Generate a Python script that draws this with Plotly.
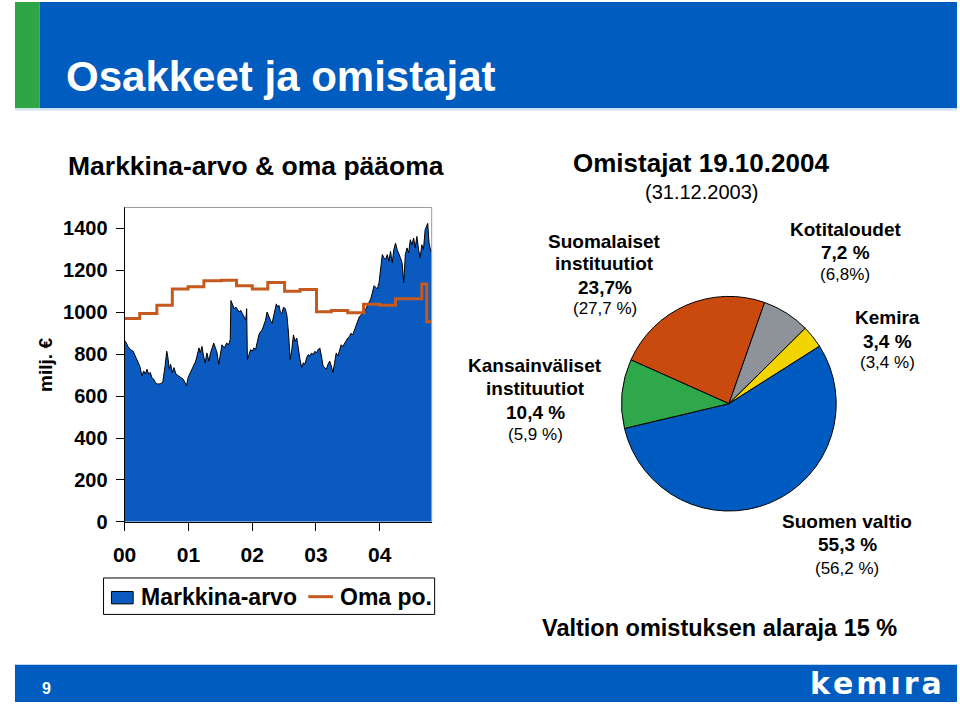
import plotly.graph_objects as go

# ---------------- DATA ----------------
# Market value (milj. €); x in decimal years
mv_years = [2000.000, 2000.015, 2000.052, 2000.093, 2000.134, 2000.170, 2000.206, 2000.237, 2000.273, 2000.299,
            2000.325, 2000.351, 2000.377, 2000.402, 2000.428, 2000.454, 2000.480, 2000.506, 2000.557, 2000.599,
            2000.635, 2000.661, 2000.676, 2000.702, 2000.722, 2000.748, 2000.774, 2000.805, 2000.841, 2000.877,
            2000.918, 2000.944, 2000.970, 2000.996, 2001.022, 2001.048, 2001.084, 2001.115, 2001.135, 2001.166,
            2001.187, 2001.213, 2001.238, 2001.264, 2001.290, 2001.321, 2001.347, 2001.373, 2001.398, 2001.424,
            2001.450, 2001.476, 2001.502, 2001.527, 2001.563, 2001.600, 2001.631, 2001.641, 2001.656, 2001.667,
            2001.692, 2001.718, 2001.744, 2001.770, 2001.796, 2001.821, 2001.847, 2001.873, 2001.899, 2001.914,
            2001.925, 2001.950, 2001.976, 2002.002, 2002.028, 2002.054, 2002.079, 2002.105, 2002.131, 2002.157,
            2002.183, 2002.209, 2002.234, 2002.260, 2002.286, 2002.312, 2002.337, 2002.363, 2002.379, 2002.399,
            2002.420, 2002.441, 2002.466, 2002.492, 2002.518, 2002.544, 2002.570, 2002.595, 2002.621, 2002.647,
            2002.673, 2002.699, 2002.724, 2002.750, 2002.776, 2002.802, 2002.828, 2002.853, 2002.879, 2002.905,
            2002.931, 2002.957, 2002.983, 2003.008, 2003.034, 2003.060, 2003.086, 2003.111, 2003.137, 2003.163,
            2003.189, 2003.215, 2003.240, 2003.266, 2003.292, 2003.318, 2003.344, 2003.369, 2003.395, 2003.421,
            2003.447, 2003.473, 2003.498, 2003.524, 2003.550, 2003.576, 2003.602, 2003.627, 2003.653, 2003.679,
            2003.705, 2003.731, 2003.756, 2003.782, 2003.808, 2003.834, 2003.860, 2003.885, 2003.911, 2003.937,
            2003.963, 2003.989, 2004.014, 2004.040, 2004.066, 2004.092, 2004.118, 2004.143, 2004.169, 2004.195,
            2004.221, 2004.247, 2004.272, 2004.298, 2004.324, 2004.350, 2004.376, 2004.401, 2004.427, 2004.453,
            2004.479, 2004.505, 2004.531, 2004.556, 2004.582, 2004.608, 2004.634, 2004.659, 2004.685, 2004.711,
            2004.737, 2004.752, 2004.773, 2004.799, 2004.814]
mv_values = [861, 861, 837, 822, 814, 791, 767, 744, 697, 720,
             705, 728, 705, 713, 689, 681, 666, 658, 658, 666,
             744, 814, 791, 728, 752, 713, 736, 705, 697, 689,
             681, 666, 650, 689, 705, 728, 744, 767, 791, 830,
             806, 837, 791, 759, 806, 767, 806, 837, 853, 830,
             806, 752, 791, 845, 830, 853, 845, 861, 870, 1056,
             1040, 1017, 1025, 1009, 1001, 1009, 994, 978, 962, 1017,
             775, 798, 822, 814, 830, 822, 861, 892, 908, 916,
             939, 962, 1001, 978, 962, 947, 978, 1025, 1040, 1025,
             1033, 1001, 994, 1025, 1017, 986, 900, 775, 822, 892,
             861, 877, 822, 775, 736, 759, 752, 783, 798, 791,
             806, 798, 814, 806, 822, 830, 791, 744, 736, 728,
             752, 767, 744, 713, 759, 806, 791, 822, 845, 837,
             853, 861, 877, 884, 900, 892, 916, 939, 955, 978,
             986, 1001, 1009, 1017, 1033, 1048, 1064, 1095, 1127, 1119,
             1111, 1142, 1205, 1275, 1260, 1252, 1275, 1244, 1291, 1236,
             1299, 1330, 1299, 1283, 1260, 1236, 1142, 1275, 1307, 1283,
             1346, 1322, 1354, 1307, 1362, 1299, 1260, 1322, 1299, 1393,
             1416, 1424, 1330, 1290, 1290]

# Equity (Oma pääoma), quarterly steps
eq_years = [2000.000, 2000.237, 2000.506, 2000.748, 2000.995, 2001.243, 2001.517, 2001.754, 2002.002, 2002.245,
            2002.508, 2002.751, 2003.008, 2003.240, 2003.498, 2003.746, 2004.000, 2004.246, 2004.659, 2004.737,
            2004.814]
eq_values = [970, 994, 1033, 1111, 1122, 1150, 1153, 1127, 1111, 1142,
             1100, 1108, 1003, 1008, 998, 1038, 1033, 1064, 1135, 955,
             955]

year_ticks = [2000, 2001, 2002, 2003, 2004]
year_labels = ["00", "01", "02", "03", "04"]
y_ticks = [0, 200, 400, 600, 800, 1000, 1200, 1400]

# Ownership pie
owners = ["Suomalaiset instituutiot", "Kotitaloudet", "Kemira", "Suomen valtio", "Kansainväliset instituutiot"]
shares = [23.7, 7.2, 3.4, 55.3, 10.4]
shares_prev = ["27,7 %", "6,8%", "3,4 %", "56,2 %", "5,9 %"]
share_labels = ["23,7%", "7,2 %", "3,4 %", "55,3 %", "10,4 %"]
pie_colors = ["#C9490F", "#8E9399", "#F2D400", "#005BC0", "#2EA84A"]

# ---------------- FIGURE ----------------
W, H = 960, 716
FONT = "Liberation Sans, Arial, sans-serif"
BLUE = "#005CBF"
AREA = "#0A5AC0"
ORANGE = "#C65A1E"


def px(x):
    return x / W


def py(y):
    return 1 - y / H


fig = go.Figure()

fig.add_trace(go.Scatter(x=mv_years, y=mv_values, mode="lines", fill="tozeroy",
                         fillcolor=AREA, line=dict(color="black", width=1),
                         name="Markkina-arvo", hoverinfo="skip"))
fig.add_trace(go.Scatter(x=eq_years, y=eq_values, mode="lines", line_shape="hv",
                         line=dict(color=ORANGE, width=3), name="Oma po.", hoverinfo="skip"))

pie_cx, pie_cy, pie_r = 726, 410, 109
fig.add_trace(go.Pie(labels=owners, values=shares, sort=False, direction="clockwise",
                     rotation=294.1, marker=dict(colors=pie_colors, line=dict(color="black", width=1)),
                     textinfo="none", hoverinfo="skip", showlegend=False,
                     domain=dict(x=[px(pie_cx - pie_r), px(pie_cx + pie_r)],
                                 y=[py(pie_cy + pie_r), py(pie_cy - pie_r)])))

X0, X1, YT, YB = 114, 425, 210.7, 530
fig.update_layout(
    width=W, height=H, margin=dict(l=0, r=0, t=0, b=0),
    paper_bgcolor="white", plot_bgcolor="white", showlegend=False,
    font=dict(family=FONT, color="black"),
    xaxis=dict(domain=[px(X0), px(X1)], range=[2000, 2004.814], tickvals=year_ticks,
               ticktext=year_labels, ticks="outside", ticklen=8, tickcolor="black",
               showline=True, linecolor="black", linewidth=1, showgrid=False, zeroline=False,
               tickfont=dict(size=21, weight="bold", family=FONT), ticklabelstandoff=6),
    yaxis=dict(domain=[py(YB), py(YT)], range=[0, 1500], tickvals=y_ticks,
               ticks="outside", ticklen=8, tickcolor="black",
               showline=True, linecolor="black", linewidth=1, showgrid=False, zeroline=False,
               tickfont=dict(size=20, weight="bold", family=FONT), ticklabelstandoff=4),
)

shapes = []
# header
shapes.append(dict(type="rect", xref="paper", yref="paper", x0=px(3), x1=px(28), y0=py(110), y1=py(2),
                   fillcolor="#2EA646", line=dict(width=0), layer="below"))
shapes.append(dict(type="rect", xref="paper", yref="paper", x0=px(28), x1=px(957), y0=py(110), y1=py(2),
                   fillcolor=BLUE, line=dict(width=0), layer="below"))
shapes.append(dict(type="line", xref="paper", yref="paper", x0=px(3), x1=px(957), y0=py(111.5), y1=py(111.5),
                   line=dict(color="#D6E6F5", width=2), layer="below"))
# footer
shapes.append(dict(type="rect", xref="paper", yref="paper", x0=px(3), x1=px(957), y0=py(713), y1=py(675),
                   fillcolor=BLUE, line=dict(width=0), layer="below"))
# plot top/right border (gray)
shapes.append(dict(type="line", xref="paper", yref="paper", x0=px(X0), x1=px(X1), y0=py(YT), y1=py(YT),
                   line=dict(color="#9A9A9A", width=1)))
shapes.append(dict(type="line", xref="paper", yref="paper", x0=px(X1), x1=px(X1), y0=py(YT), y1=py(YB),
                   line=dict(color="#9A9A9A", width=1)))
# manual legend
shapes.append(dict(type="rect", xref="paper", yref="paper", x0=px(92.7), x1=px(428), y0=py(624), y1=py(587),
                   fillcolor="white", line=dict(color="black", width=1)))
shapes.append(dict(type="rect", xref="paper", yref="paper", x0=px(100.7), x1=px(122.7), y0=py(613.3), y1=py(600.7),
                   fillcolor=AREA, line=dict(color="black", width=1)))
shapes.append(dict(type="line", xref="paper", yref="paper", x0=px(300), x1=px(325), y0=py(606), y1=py(606),
                   line=dict(color=ORANGE, width=3)))
fig.update_layout(shapes=shapes)

ann = []


def text(t, x, y, size, bold=True, color="black", xanchor="center", family=FONT, angle=0):
    ann.append(dict(text=t, x=px(x), y=py(y), xref="paper", yref="paper", showarrow=False,
                    xanchor=xanchor, yanchor="middle", textangle=angle,
                    font=dict(size=size, color=color, family=family, weight="bold" if bold else "normal")))


text("Osakkeet ja omistajat", 53, 78, 42, color="white", xanchor="left")
text("Markkina-arvo & oma pääoma", 55, 168.5, 26.5, xanchor="left")
text("milj. €", 34, 371, 19, angle=-90)

text("Omistajat 19.10.2004", 698, 166, 26)
text("(31.12.2003)", 698, 195, 20, bold=False)

# pie labels
text("Suomalaiset", 600, 245, 19)
text("instituutiot", 600, 268, 19)
text(share_labels[0], 600, 291.7, 19)
text("(" + shares_prev[0] + ")", 600, 313, 17, bold=False)

text("Kotitaloudet", 844, 233.3, 19)
text(share_labels[1], 844, 256.7, 19)
text("(" + shares_prev[1] + ")", 844, 278.3, 17, bold=False)

text("Kemira", 887, 322.7, 19)
text(share_labels[2], 887, 346.7, 19)
text("(" + shares_prev[2] + ")", 887, 368.3, 17, bold=False)

text("Kansainväliset", 530, 371.7, 19)
text("instituutiot", 530, 395, 19)
text(share_labels[4], 530, 419, 19)
text("(" + shares_prev[4] + ")", 530, 441.7, 17, bold=False)

text("Suomen valtio", 846, 529.3, 19)
text(share_labels[3], 846, 553.3, 19)
text("(" + shares_prev[3] + ")", 846, 577.3, 17, bold=False)

text("Valtion omistuksen alaraja 15 %", 716, 638, 23.5)

# legend text
text("Markkina-arvo", 129, 606, 23, xanchor="left")
text("Oma po.", 330, 606, 23, xanchor="left")

# footer
text("9", 35, 699, 16, color="white")
text("k\u200ae\u200am\u200a\u0131\u200ar\u200aa", 806, 694, 30, color="white", xanchor="left",
     family="DejaVu Sans, sans-serif")

fig.update_layout(annotations=ann)

# remove the default 8px page margin so the 960x716 figure fills the window exactly
fig.write_html("out.html", config={"displayModeBar": False},
               post_script="document.body.style.margin='0px';document.body.style.overflow='hidden';")
